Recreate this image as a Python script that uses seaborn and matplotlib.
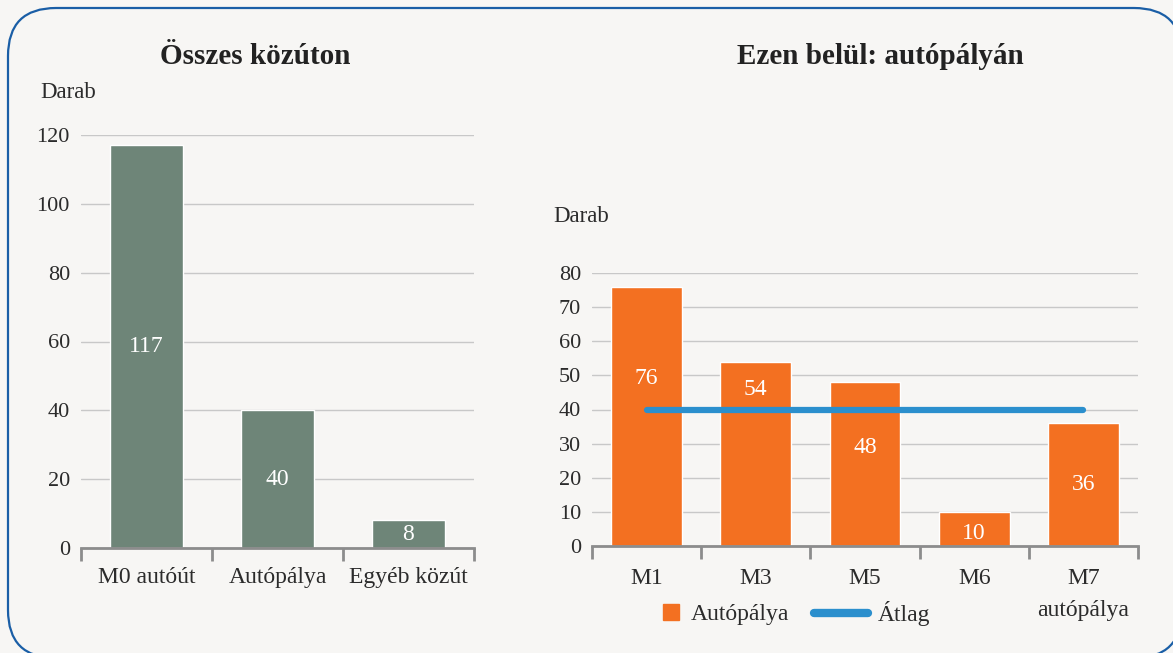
import numpy as np
import pandas as pd
import matplotlib
matplotlib.use("Agg")
import matplotlib.pyplot as plt
from matplotlib.patches import FancyBboxPatch
from matplotlib.lines import Line2D
import seaborn as sns

# left panel data
all_roads = ['M0 autóút', 'Autópálya', 'Egyéb közút']
all_counts = [117, 40, 8]

# right panel data
motorways = ['M1', 'M3', 'M5', 'M6', 'M7\nautópálya']
mw_counts = [76, 54, 48, 10, 36]
mw_avg = [40, 40, 40, 40, 40]
# where the value labels sit inside the orange bars (data units)
mw_label_y = [49, 46, 29, 3.8, 18]

bg = '#f7f6f4'
green = '#6e8578'
orange = '#f37021'
blue = '#2b8fcd'
grid_c = '#c8c8c8'
spine_c = '#8c8c8c'
text_c = '#2b2b2b'

sns.set_style("white")
plt.rcParams['font.family'] = ['Liberation Serif', 'DejaVu Serif']

fig = plt.figure(figsize=(11.73, 6.53), dpi=100, facecolor=bg)

# rounded frame around the whole thing (runs a bit past the bottom/right edge).
# filled with the background so Agg does not clip the curved corners badly
frame = FancyBboxPatch((0.08, -0.05), 11.74, 6.50,
                       boxstyle="round,pad=0,rounding_size=0.48",
                       transform=fig.dpi_scale_trans, facecolor=bg,
                       edgecolor='#1a5ea6', linewidth=1.6, zorder=-1)
fig.patches.append(frame)

ax1 = fig.add_axes([81/1173, 1-548/653, 393/1173, 413/653])
ax2 = fig.add_axes([592/1173, 1-546/653, 546/1173, 273/653])


def style_axis(ax, n, ymax, step):
    ax.set_facecolor(bg)
    ax.set_ylim(0, ymax)
    ax.set_xlim(-0.5, n - 0.5)
    ax.set_yticks(np.arange(0, ymax + 1, step))
    ax.grid(axis='y', color=grid_c, lw=1)
    ax.set_axisbelow(True)
    for s in ['left', 'right', 'top']:
        ax.spines[s].set_visible(False)
    ax.spines['bottom'].set_color(spine_c)
    ax.spines['bottom'].set_linewidth(2)
    ax.set_xticks(np.arange(-0.5, n, 1), minor=True)
    ax.tick_params(axis='x', which='minor', bottom=True, length=9, width=2,
                   color=spine_c, direction='out')
    ax.tick_params(axis='x', which='major', bottom=False, length=0, pad=14,
                   labelsize=17, labelcolor=text_c)
    ax.tick_params(axis='y', left=False, length=0, pad=8, labelsize=16, labelcolor=text_c)
    ax.set_xlabel('')
    ax.set_ylabel('')


# ---- left: all roads
sns.barplot(x=all_roads, y=all_counts, color=green, saturation=1, width=0.56, ax=ax1)
style_axis(ax1, len(all_roads), 120, 20)
ax1.bar_label(ax1.containers[0], labels=[str(v) for v in all_counts],
              label_type='center', color='white', fontsize=17)

# ---- right: motorways
sns.barplot(x=motorways, y=mw_counts, color=orange, saturation=1, width=0.65, ax=ax2)
ax2.plot(np.arange(len(motorways)), mw_avg, color=blue, lw=4.5,
         solid_capstyle='round', zorder=5)
style_axis(ax2, len(motorways), 80, 10)
ax2.tick_params(axis='x', which='major', pad=16)
for t in ax2.get_xticklabels():
    t.set_linespacing(1.65)
for i, (v, ly) in enumerate(zip(mw_counts, mw_label_y)):
    ax2.text(i, ly, str(v), ha='center', va='center', color='white', fontsize=17, zorder=6)

# titles and unit labels
fig.text(255/1173, 1-57/653, 'Összes közúton', ha='center', va='center',
         fontsize=21, fontweight='bold', color='#222222')
fig.text(880/1173, 1-57/653, 'Ezen belül: autópályán', ha='center', va='center',
         fontsize=21, fontweight='bold', color='#222222')
fig.text(40/1173, 1-92/653, 'Darab', ha='left', va='center', fontsize=16.5, color=text_c)
fig.text(553/1173, 1-217/653, 'Darab', ha='left', va='center', fontsize=16.5, color=text_c)

# legend: two single-entry legends so the square and the line get their own widths
leg_kw = dict(ncol=1, frameon=False, fontsize=17, handletextpad=0.4,
              borderpad=0, borderaxespad=0, labelcolor=text_c)
leg1 = fig.legend([Line2D([0], [0], marker='s', markersize=12, color=orange, linestyle='none')],
                  ['Autópálya'], loc='center left', handlelength=0.8,
                  bbox_to_anchor=(662/1173, 1-614/653), **leg_kw)
leg2 = fig.legend([Line2D([0], [0], color=blue, lw=6, solid_capstyle='round')],
                  ['Átlag'], loc='center left', handlelength=2.3,
                  bbox_to_anchor=(814/1173, 1-614/653), **leg_kw)

fig.savefig('out.png', dpi=100, facecolor=bg)
